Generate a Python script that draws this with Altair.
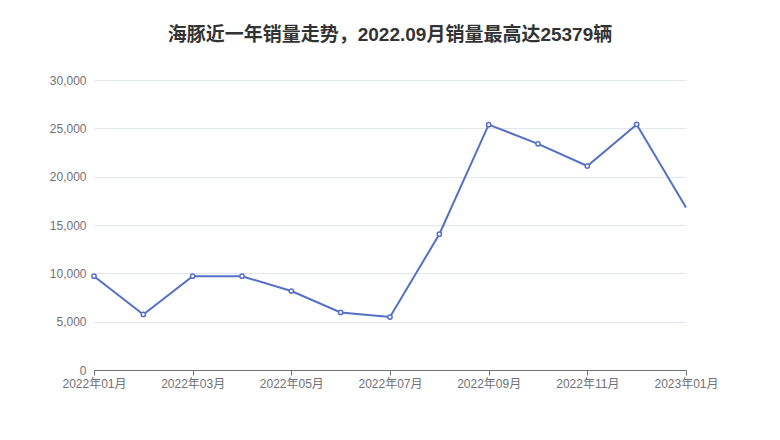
import altair as alt
import pandas as pd

months = ["2022年01月", "2022年02月", "2022年03月", "2022年04月", "2022年05月",
          "2022年06月", "2022年07月", "2022年08月", "2022年09月", "2022年10月",
          "2022年11月", "2022年12月", "2023年01月"]
sales = [9700, 5750, 9700, 9700, 8170, 5950, 5480, 14050, 25379, 23400, 21100, 25400, 16800]

df = pd.DataFrame({"idx": list(range(len(months))), "month": months, "sales": sales})

label_arr = "[" + ",".join("'%s'" % m for m in months) + "]"
FONT = "Liberation Sans, Noto Sans CJK SC"
COLOR = "#5470c6"

x = alt.X("idx:Q",
          scale=alt.Scale(domain=[0, len(months) - 1], nice=False, zero=False),
          axis=alt.Axis(values=list(range(0, len(months), 2)),
                        labelExpr=label_arr + "[datum.value]",
                        title=None, grid=False, domainColor="#6e7079",
                        tickColor="#6e7079", tickSize=5, labelPadding=3,
                        labelColor="#6e7079", labelFontSize=12, labelFont=FONT,
                        labelFlush=False))
y = alt.Y("sales:Q",
          scale=alt.Scale(domain=[0, 30000]),
          axis=alt.Axis(values=[0, 5000, 10000, 15000, 20000, 25000, 30000],
                        format=",.0f", title=None, domain=False, ticks=False,
                        labelPadding=8, gridColor="#e0e6f1",
                        labelColor="#6e7079", labelFontSize=12, labelFont=FONT))

line = alt.Chart(df).mark_line(color=COLOR, strokeWidth=2).encode(x=x, y=y)
pts = alt.Chart(df).transform_filter(f"datum.idx < {len(months) - 1}").mark_point(
    shape="circle", filled=True, fill="white", stroke=COLOR, strokeWidth=1.5,
    size=18, opacity=1).encode(x=x, y=y)

chart = (line + pts).properties(
    width=592, height=290,
    title=alt.TitleParams("海豚近一年销量走势，2022.09月销量最高达25379辆",
                          font=FONT, fontSize=19, fontWeight="bold",
                          color="#333333", anchor="middle", offset=29),
    autosize=alt.AutoSizeParams(type="none"),
    padding={"left": 86, "top": 72, "right": 86, "bottom": 50},
).configure_view(stroke=None)

chart.save("out.html", embed_options={"renderer": "svg", "actions": False})
